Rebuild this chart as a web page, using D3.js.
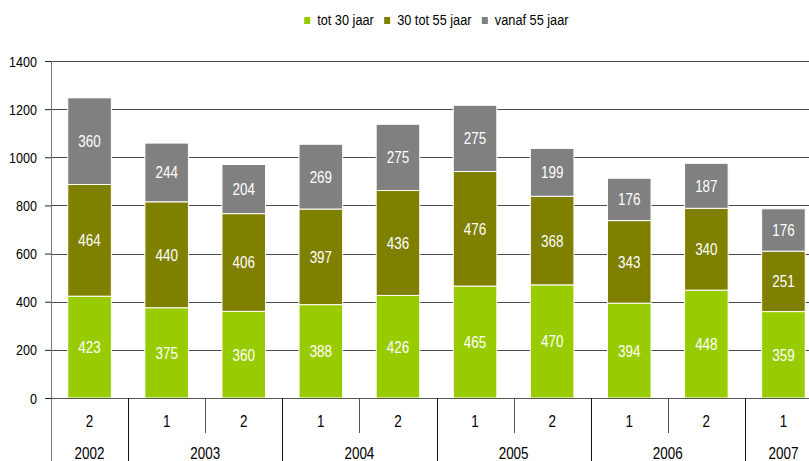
<!DOCTYPE html>
<html>
<head>
<meta charset="utf-8">
<script src="https://cdn.jsdelivr.net/npm/d3@7"></script>
<style>
  body { margin: 0; background: #fff; }
  svg { display: block; font-family: "Liberation Sans", Arial, sans-serif; }
</style>
</head>
<body>
<svg id="chart" width="809" height="461"></svg>
<script>
// data
const years = ['2002', '2003', '2003', '2004', '2004', '2005', '2005', '2006', '2006', '2007'];
const halves = ['2', '1', '2', '1', '2', '1', '2', '1', '2', '1'];
const seriesNames = ['tot 30 jaar', '30 tot 55 jaar', 'vanaf 55 jaar'];
const young = [423, 375, 360, 388, 426, 465, 470, 394, 448, 359];
const middle = [464, 440, 406, 397, 436, 476, 368, 343, 340, 251];
const old = [360, 244, 204, 269, 275, 275, 199, 176, 187, 176];
const yTicks = [0, 200, 400, 600, 800, 1000, 1200, 1400];
const colors = ['#99cc00', '#808000', '#808080'];

const svg = d3.select('#chart');
const margin = { left: 51, right: -13, top: 61, bottom: 63 };
const width = 809, height = 461;

// the original uses a condensed face, squeeze the text horizontally
function narrow(sel, sx) {
  sel.each(function () {
    const t = d3.select(this);
    const px = +t.attr('x') || 0, py = +t.attr('y') || 0;
    t.attr('x', null).attr('y', null)
      .attr('transform', `translate(${px},${py}) scale(${sx},1)`);
  });
}

const rows = halves.map((h, i) => ({ i: i, tot30: young[i], mid: middle[i], old: old[i] }));
const keys = ['tot30', 'mid', 'old'];
const stacked = d3.stack().keys(keys)(rows);

const x = d3.scaleBand()
  .domain(d3.range(halves.length))
  .range([margin.left, width - margin.right])
  .paddingInner(0.435)
  .paddingOuter(0.2175);

const y = d3.scaleLinear()
  .domain([0, 1400])
  .range([height - margin.bottom, margin.top]);

// gridlines
svg.append('g')
  .selectAll('line')
  .data(yTicks.filter(d => d > 0))
  .enter()
  .append('line')
  .attr('x1', margin.left)
  .attr('x2', width)
  .attr('y1', d => Math.round(y(d)) + 0.5)
  .attr('y2', d => Math.round(y(d)) + 0.5)
  .attr('stroke', '#4a4a4a')
  .attr('stroke-width', 1);

// bars
const layer = svg.append('g')
  .selectAll('g')
  .data(stacked)
  .enter()
  .append('g')
  .attr('fill', (d, k) => colors[k]);

layer.selectAll('rect')
  .data(d => d)
  .enter()
  .append('rect')
  .attr('x', d => x(d.data.i))
  .attr('width', x.bandwidth())
  .attr('y', d => y(d[1]))
  .attr('height', d => y(d[0]) - y(d[1]))
  .attr('stroke', '#fff')
  .attr('stroke-width', 1);

// value labels
layer.selectAll('text')
  .data(d => d)
  .enter()
  .append('text')
  .attr('x', d => x(d.data.i) + x.bandwidth() / 2)
  .attr('y', d => (y(d[0]) + y(d[1])) / 2 + 6)
  .attr('text-anchor', 'middle')
  .attr('fill', '#fff')
  .attr('font-size', 17)
  .text(d => d[1] - d[0])
  .call(narrow, 0.79);

// y axis
const yAxis = svg.append('g')
  .attr('transform', `translate(${margin.left},0)`)
  .call(d3.axisLeft(y).tickValues(yTicks).tickFormat(d3.format('d')).tickSize(6).tickPadding(0));
yAxis.select('.domain').remove();
yAxis.selectAll('line').attr('stroke', '#222');
yAxis.selectAll('text')
  .attr('font-size', 15).attr('fill', '#000')
  .attr('font-family', '"Liberation Sans", Arial, sans-serif')
  .attr('dy', null)
  .attr('x', -14).attr('y', 5)
  .call(narrow, 0.84);

svg.append('line')
  .attr('x1', margin.left + 0.5).attr('x2', margin.left + 0.5)
  .attr('y1', margin.top).attr('y2', height)
  .attr('stroke', '#777');

// x axis baseline
svg.append('line')
  .attr('x1', margin.left).attr('x2', width)
  .attr('y1', Math.round(y(0)) + 0.5).attr('y2', Math.round(y(0)) + 0.5)
  .attr('stroke', '#555');

// category dividers
const step = x.step();
const edge = i => x(i) - step * x.paddingInner() / 2;
const xaxis = svg.append('g');
halves.forEach((h, i) => {
  if (i === 0) return;
  const yearBreak = years[i] !== years[i - 1];
  xaxis.append('line')
    .attr('x1', Math.round(edge(i)) + 0.5).attr('x2', Math.round(edge(i)) + 0.5)
    .attr('y1', y(0)).attr('y2', yearBreak ? height : y(0) + 35)
    .attr('stroke', yearBreak ? '#111' : '#555');
});

xaxis.selectAll('text.half')
  .data(halves)
  .enter()
  .append('text')
  .attr('class', 'half')
  .attr('x', (d, i) => x(i) + x.bandwidth() / 2)
  .attr('y', 427)
  .attr('text-anchor', 'middle')
  .attr('font-size', 16)
  .text(d => d)
  .call(narrow, 0.84);

// year labels centred over their group
const yearGroups = d3.groups(d3.range(years.length), i => years[i]);
xaxis.selectAll('text.year')
  .data(yearGroups)
  .enter()
  .append('text')
  .attr('class', 'year')
  .attr('x', d => {
    const a = edge(d[1][0]);
    const b = edge(d[1][d[1].length - 1]) + step;
    return (a + b) / 2;
  })
  .attr('y', 459)
  .attr('text-anchor', 'middle')
  .attr('font-size', 16)
  .text(d => d[0])
  .call(narrow, 0.84);

// legend
const legend = svg.append('g').attr('font-size', 15);
let lx = 0;
const items = legend.selectAll('g')
  .data(seriesNames)
  .enter()
  .append('g');
items.append('rect')
  .attr('width', 6).attr('height', 7)
  .attr('y', -8)
  .attr('fill', (d, k) => colors[k]);
items.append('text')
  .attr('x', 13)
  .text(d => d)
  .call(narrow, 0.85);
items.each(function () {
  d3.select(this).attr('transform', `translate(${lx},0)`);
  lx += this.getBBox().width + 10;
});
const legendWidth = lx - 10;
legend.attr('transform', `translate(${(margin.left + width - margin.right) / 2 - legendWidth / 2},25)`);
</script>
</body>
</html>
